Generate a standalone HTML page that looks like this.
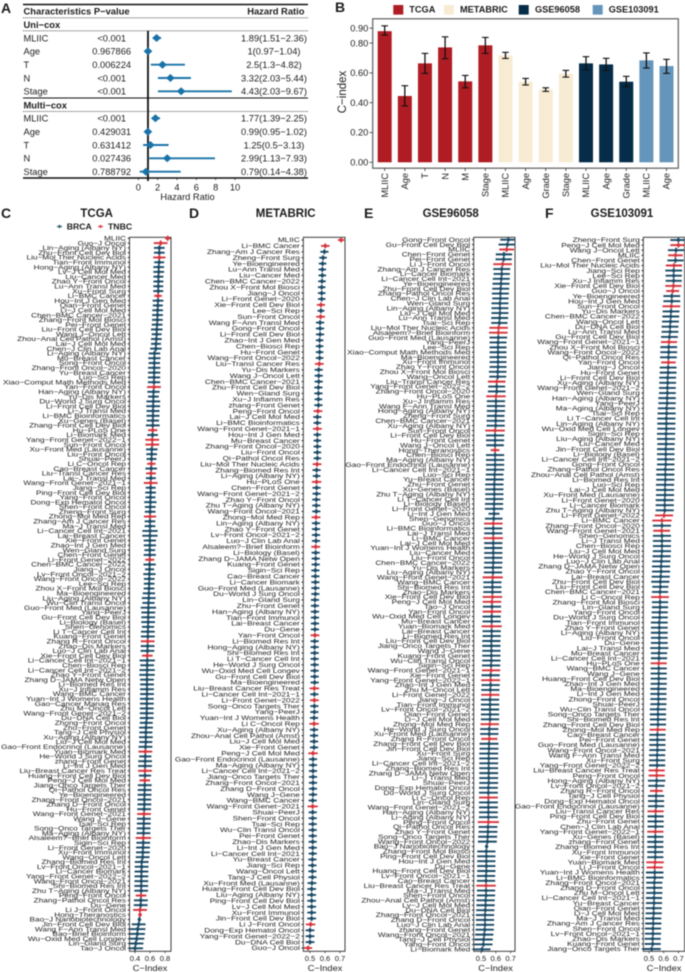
<!DOCTYPE html>
<html lang="en">
<head>
<meta charset="utf-8">
<title>C-index and hazard ratio figure</title>
<style>
html,body{margin:0;padding:0;background:#fff;width:685px;height:972px;overflow:hidden}
svg{position:absolute;left:0;top:0;filter:blur(.42px)}
text{font-family:"Liberation Sans",Arial,sans-serif;fill:#1c1c1c}
.b{font-weight:bold}
</style>
</head>
<body>
<svg id="fig" width="685" height="972" viewBox="0 0 685 972" xmlns="http://www.w3.org/2000/svg">
<text class="b" x="1" y="13" font-size="14">A</text>
<text class="b" x="335" y="12" font-size="14">B</text>
<text class="b" x="1" y="218" font-size="14">C</text>
<text class="b" x="189" y="218" font-size="14">D</text>
<text class="b" x="364" y="218" font-size="14">E</text>
<text class="b" x="545" y="218" font-size="14">F</text>
<g id="panelA">
<line x1="23" x2="308" y1="4.5" y2="4.5" stroke="#111" stroke-width="1.4"/>
<text class="b" x="23.5" y="14.3" font-size="9.4">Characteristics P−value</text>
<text class="b" x="304.5" y="14.3" font-size="9.4" text-anchor="end">Hazard Ratio</text>
<line x1="23" x2="308" y1="17.8" y2="17.8" stroke="#555" stroke-width=".9" stroke-dasharray="1.2 .8"/>
<text class="b" x="23.5" y="28" font-size="9.4">Uni−cox</text>
<line x1="23" x2="308" y1="30.8" y2="30.8" stroke="#555" stroke-width=".9" stroke-dasharray="1.2 .8"/>
<line x1="23" x2="308" y1="98" y2="98" stroke="#111" stroke-width="1"/>
<text class="b" x="23.5" y="108.3" font-size="9.4">Multi−cox</text>
<line x1="23" x2="308" y1="111.4" y2="111.4" stroke="#555" stroke-width=".9" stroke-dasharray="1.2 .8"/>
<line x1="23" x2="308" y1="178" y2="178" stroke="#111" stroke-width="1.4"/>
<text x="187.5" y="200" font-size="9.3" text-anchor="middle">Hazard Ratio</text>
</g>
<g id="panelB">
<rect x="372.7" y="18.8" width="305.6" height="149.4" fill="none" stroke="#6a6a6a" stroke-width="1.3"/>
<text font-size="11.5" text-anchor="middle" transform="translate(346,92) rotate(-90)">C−index</text>
<rect x="393.3" y="5" width="10" height="9.6" fill="#b01c23"/>
<text class="b" x="409.3" y="12.5" font-size="9.2">TCGA</text>
<rect x="444" y="5" width="10" height="9.6" fill="#f8ebd3"/>
<text class="b" x="460" y="12.5" font-size="9.2">METABRIC</text>
<rect x="518.7" y="5" width="10" height="9.6" fill="#052c48"/>
<text class="b" x="535" y="12.5" font-size="9.2">GSE96058</text>
<rect x="592.7" y="5" width="10" height="9.6" fill="#6595ba"/>
<text class="b" x="608.7" y="12.5" font-size="9.2">GSE103091</text>
</g>
<text class="b" x="96.7" y="217" font-size="11.5" text-anchor="middle">TCGA</text>
<line x1="57" x2="62" y1="226.5" y2="226.5" stroke="#1e4f6b" stroke-width="1.2"/>
<line x1="59.5" x2="59.5" y1="224.8" y2="228.2" stroke="#1e4f6b" stroke-width="1.2"/>
<text class="b" x="66.7" y="229.4" font-size="8.7">BRCA</text>
<line x1="98" x2="103" y1="226.5" y2="226.5" stroke="#d6343c" stroke-width="1.2"/>
<line x1="100.5" x2="100.5" y1="224.8" y2="228.2" stroke="#d6343c" stroke-width="1.2"/>
<text class="b" x="108" y="229.4" font-size="8.7">TNBC</text>
<text class="b" x="285.7" y="217" font-size="11.5" text-anchor="middle">METABRIC</text>
<text class="b" x="450.7" y="217" font-size="11.5" text-anchor="middle">GSE96058</text>
<text class="b" x="622" y="217" font-size="11.5" text-anchor="middle">GSE103091</text>
</svg>
<script>
/* ---------- Panel A data ---------- */
const hrNames=["MLIIC","Age","T","N","Stage","MLIIC","Age","T","N","Stage"];
const hrPValues=["<0.001","0.967866","0.006224","<0.001","<0.001","<0.001","0.429031","0.631412","0.027436","0.788792"];
const hrCenters=[1.89,1,2.5,3.32,4.43,1.77,0.99,1.25,2.99,0.79];
const hrLows=[1.51,0.97,1.3,2.03,2.03,1.39,0.95,0.5,1.13,0.14];
const hrHighs=[2.36,1.04,4.82,5.44,9.67,2.25,1.02,3.13,7.93,4.38];
const hrTexts=["1.89(1.51-2.36)","1(0.97-1.04)","2.5(1.3-4.82)","3.32(2.03-5.44)","4.43(2.03-9.67)","1.77(1.39-2.25)","0.99(0.95-1.02)","1.25(0.5-3.13)","2.99(1.13-7.93)","0.79(0.14-4.38)"];
const hrTicks=[0,2,4,6,8,10];

/* ---------- Panel B data ---------- */
const barCategories=["MLIIC","Age","T","N","M","Stage","MLIIC","Age","Grade","Stage","MLIIC","Age","Grade","MLIIC","Age"];
const barCohorts=["TCGA","TCGA","TCGA","TCGA","TCGA","TCGA","METABRIC","METABRIC","METABRIC","METABRIC","GSE96058","GSE96058","GSE96058","GSE103091","GSE103091"];
const barValues=[0.88,0.445,0.664,0.771,0.543,0.785,0.718,0.541,0.49,0.595,0.664,0.657,0.541,0.684,0.646];
const barLows=[0.854,0.378,0.597,0.695,0.5,0.731,0.697,0.519,0.476,0.572,0.62,0.617,0.508,0.633,0.597];
const barHighs=[0.916,0.514,0.731,0.842,0.583,0.838,0.738,0.563,0.5,0.617,0.709,0.698,0.577,0.734,0.691];
const barTicks=[0,0.2,0.4,0.6,0.8,0.9];

/* ---------- Panel C data (TCGA) ---------- */
const tcgaLabels=[
"MLIIC","Guo-J Oncol","Lin-Aging (Albany NY)","Zhu-Front Cell Dev Biol","Liu-Mol Ther Nucleic Acids","Tian-Front Immunol","Hong-Aging (Albany NY)","Lv-J Cell Mol Med","Liu-Cancer Med","Zhao Y-Front Oncol",
"Lu-Ann Transl Med","Xu-Front Surg","Li-BMC Cancer","Hou-Int J Gen Med","Qian-Front Genet","Li-J Cell Mol Med","Chen-BMC Cancer-2021","Zhang-Front Mol Biosci","Pei-Front Genet","Liu-Front Cell Dev Biol",
"Wang J-Oncol Lett","Zhou-Anal Cell Pathol (Amst)","Lai-J Cell Mol Med","Chen-J Clin Lab Anal","Li-Aging (Albany NY)","Mu-Breast Cancer","Song-Front Oncol","Zhang-Front Oncol-2020","Yu-Breast Cancer","Luo-Sci Rep",
"Xiao-Comput Math Methods Med","Yan-Front Oncol","Han-Aging (Albany NY)","Yu-Dis Markers","Du-World J Surg Oncol","Li-Front Cell Dev Biol","Li-J Transl Med","Li-BMC Bioinformatics","Xu-Genes (Basel)","Zhang-Front Cell Dev Biol",
"Hu-PLoS One","Li-Biomark Med","Yang-Front Genet-2022-1","Sun-Front Oncol","Xu-Front Med (Lausanne)","Liu-Front Oncol","Shuai-PeerJ","Li C-Oncol Rep","Cao-Breast Cancer","Liu-Transl Cancer Res",
"Lai-J Transl Med","Wang-Front Genet-2021-1","Jiang-Sci Rep","Ping-Front Cell Dev Biol","Yang-Front Oncol","Dong-Exp Hematol Oncol","Shen-Front Oncol","Zheng-Front Surg","Zhong-Mol Med Rep","Zhang-Am J Cancer Res",
"Ma-J Transl Med","Li-Cancer Cell Int-2021","Lai-Breast Cancer","Xie-Front Genet","Zhao-Int J Gen Med","Wen-Gland Surg","Chen-Front Genet","Li-Front Genet-2022","Chen-BMC Cancer-2022","Jiang-J Oncol",
"Lv-Front Oncol-2021-2","Wang-Front Oncol-2022","Lee-Sci Rep","Zhou X-Front Mol Biosci","Ma-Bioengineered","Liu-Aging (Albany NY)","Wu-Clin Transl Oncol","Guo-Front Med (Lausanne)","Yang-PeerJ","Gu-Front Cell Dev Biol",
"Li-Biology (Basel)","Shen-Genomics","Li T-Cancer Cell Int","Kuang-Front Genet","Zhang R-Front Oncol","Zhao-Dis Markers","Luo-J Clin Lab Anal","Xie-Front Cell Dev Biol","Li-Cancer Cell Int-2021-1","Chen-Biosci Rep",
"Li-Cancer Cell Int-2021-2","Zhao Y-Front Genet","Zhang D-JAMA Netw Open","Li-Biomed Res Int","Xu-J Inflamm Res","Wang-BMC Cancer","Yuan-Int J Womens Health","Gao-Cancer Manag Res","Zhu M-Oncol Lett","Wang-Front Genet-2021-2",
"Du-DNA Cell Biol","Zhong-Front Oncol","Zhu-Front Genet","Tang-J Cell Physiol","Xu-Aging (Albany NY)","Liu-J Cell Mol Med","Gao-Front Endocrinol (Lausanne)","Yuan-Biomark Med","He-World J Surg Oncol","zhang-Front Genet",
"Li-Int J Gen Med","Liu-Breast Cancer Res Treat","Huang-Front Cell Dev Biol","Peng-J Cell Mol Med","Jiang-Onco Targets Ther","Qi-Pathol Oncol Res","Ye-Bioengineered","Zhang-Front Oncol-2021","Zhang D-Front Oncol","Hu-Front Genet",
"Wang-Front Genet-2021","Wang J-Gene","Tsai-Sci Rep","Song-Onco Targets Ther","Ma-Aging (Albany NY)","Alsaleem?-Brief Bioinform","Sigin-Sci Rep","Li-Front Genet-2020","Xu-Front Immunol","Wang-Oncol Lett",
"Zhang-Biomed Res Int","Lv-Front Oncol-2021-1","Li-Cancer Biomark","Yang-Front Genet-2022-2","Wang-Front Oncol-2021","Shi-Biomed Res Int","Zhu T-Aging (Albany NY)","Peng-Front Oncol","Zhang-Pathol Oncol Res","Du-Gene",
"Li J-Front Oncol","Hong-Theranostics","Bao-J Nanobiotechnology","Jin-Front Cell Dev Biol","Wang F-Ann Transl Med","Bao-Brief Bioinform","Wu-Oxid Med Cell Longev","Lin-Gland Surg","Tao-J Oncol"];
const tcgaCenters=[
.836,.742,.724,.724,.724,.722,.716,.716,.712,.712,
.71,.71,.707,.707,.704,.702,.7,.698,.695,.69,
.689,.685,.68,.678,.66,.658,.657,.656,.655,.654,
.653,.653,.647,.645,.644,.642,.64,.64,.638,.637,
.636,.634,.63,.63,.624,.622,.62,.618,.616,.614,
.612,.609,.609,.608,.606,.605,.603,.602,.6,.6,
.6,.6,.599,.598,.598,.597,.597,.596,.595,.594,
.592,.59,.589,.587,.585,.583,.58,.578,.577,.576,
.575,.574,.572,.571,.569,.568,.566,.564,.563,.562,
.562,.56,.56,.56,.56,.56,.558,.558,.557,.556,
.556,.55,.547,.545,.545,.544,.54,.538,.537,.535,
.534,.533,.533,.53,.53,.528,.527,.525,.525,.522,
.52,.518,.517,.515,.513,.511,.51,.507,.505,.502,
.489,.488,.486,.485,.484,.483,.482,.48,.478,.476,
.467,.467,.458,.449,.436,.43,.422,.41,.4];
const tcgaHalfWidths=[
.035,.09,.07,.07,.08,.065,.07,.07,.065,.065,
.065,.065,.05,.07,.065,.07,.07,.07,.07,.075,
.065,.07,.065,.075,.075,.08,.075,.08,.08,.08,
.08,.09,.08,.07,.09,.09,.085,.085,.08,.09,
.06,.07,.09,.09,.075,.07,.065,.055,.075,.065,
.065,.09,.065,.07,.065,.08,.07,.07,.08,.07,
.07,.1,.1,.08,.08,.07,.08,.06,.08,.06,
.08,.07,.07,.07,.08,.09,.08,.1,.09,.09,
.09,.08,.09,.09,.09,.09,.09,.07,.1,.09,
.1,.1,.09,.09,.09,.09,.09,.09,.09,.09,
.09,.085,.09,.085,.09,.085,.09,.09,.08,.09,
.09,.09,.08,.07,.09,.09,.09,.09,.09,.09,
.09,.09,.09,.09,.09,.1,.09,.09,.09,.09,
.09,.09,.09,.09,.09,.09,.09,.07,.09,.09,
.09,.02,.012,.09,.1,.1,.1,.1,.105];
const tcgaTnbc=["MLIIC","Guo-J Oncol","Liu-Mol Ther Nucleic Acids","Li-BMC Cancer","Yan-Front Oncol","Hu-PLoS One","Yang-Front Genet-2022-1","Sun-Front Oncol","Li C-Oncol Rep","Liu-Transl Cancer Res","Wang-Front Genet-2021-1","Zhong-Mol Med Rep","Li-Front Genet-2022","Zhang R-Front Oncol","Xie-Front Cell Dev Biol","Yuan-Biomark Med","Liu-Breast Cancer Res Treat","Peng-J Cell Mol Med","Wang-Front Genet-2021","Alsaleem?-Brief Bioinform","Peng-Front Oncol","Li J-Front Oncol","Hong-Theranostics"];
const tcgaTicks=[0.4,0.6,0.8];

/* ---------- Panel D data (METABRIC) ---------- */
const metabricLabels=[
"MLIIC","Li-BMC Cancer","Zhang-Am J Cancer Res","Zheng-Front Surg","Ye-Bioengineered","Lu-Ann Transl Med","Liu-Cancer Med","Chen-BMC Cancer-2022","Zhou X-Front Mol Biosci","Jiang-J Oncol",
"Li-Front Genet-2020","Xie-Front Cell Dev Biol","Lee-Sci Rep","Sun-Front Oncol","Wang F-Ann Transl Med","Gong-Front Oncol","Li-Front Cell Dev Biol","Zhao-Int J Gen Med","Chen-Biosci Rep","Hu-Front Genet",
"Wang-Front Oncol-2022","Liu-Transl Cancer Res","Yu-Dis Markers","Wang J-Oncol Lett","Chen-BMC Cancer-2021","Zhu-Front Cell Dev Biol","Wen-Gland Surg","Xu-J Inflamm Res","zhang-Front Genet","Peng-Front Oncol",
"Lai-J Cell Mol Med","Li-BMC Bioinformatics","Wang-Front Genet-2021-1","Hou-Int J Gen Med","Mu-Breast Cancer","Zhang-Front Oncol-2020","Liu-Front Oncol","Qi-Pathol Oncol Res","Liu-Mol Ther Nucleic Acids","Zhang-Biomed Res Int",
"Li-Aging (Albany NY)","Hu-PLoS One","Chen-Front Genet","Wang-Front Genet-2021-2","Zhao Y-Front Oncol","Zhu T-Aging (Albany NY)","Wang-Front Oncol-2021","Zhong-Mol Med Rep","Lin-Aging (Albany NY)","Zhao Y-Front Genet",
"Lv-Front Oncol-2021-2","Luo-J Clin Lab Anal","Alsaleem?-Brief Bioinform","Li-Biology (Basel)","Zhang D-JAMA Netw Open","Kuang-Front Genet","Sigin-Sci Rep","Cao-Breast Cancer","Li-Cancer Biomark","Guo-Front Med (Lausanne)",
"Du-World J Surg Oncol","Lin-Gland Surg","Zhu-Front Genet","Han-Aging (Albany NY)","Tian-Front Immunol","Lai-Breast Cancer","Du-Gene","Yan-Front Oncol","Li-Biomed Res Int","Hong-Aging (Albany NY)",
"Shi-Biomed Res Int","Li T-Cancer Cell Int","He-World J Surg Oncol","Wu-Oxid Med Cell Longev","Gu-Front Cell Dev Biol","Ma-Bioengineered","Liu-Breast Cancer Res Treat","Li-Cancer Cell Int-2021-1","Li-Front Genet-2022","Song-Onco Targets Ther",
"Yang-PeerJ","Yuan-Int J Womens Health","Li C-Oncol Rep","Xu-Aging (Albany NY)","Zhou-Anal Cell Pathol (Amst)","Liu-J Cell Mol Med","Xie-Front Genet","Peng-J Cell Mol Med","Gao-Front Endocrinol (Lausanne)","Ma-Aging (Albany NY)",
"Li-Cancer Cell Int-2021-2","Jiang-Onco Targets Ther","Zhang-Front Oncol-2021","Zhang D-Front Oncol","Wang J-Gene","Wang-BMC Cancer","Wang-Front Genet-2021","Shuai-PeerJ","Shen-Front Oncol","Tsai-Sci Rep",
"Wu-Clin Transl Oncol","Pei-Front Genet","Zhao-Dis Markers","Li-Int J Gen Med","Li-Cancer Cell Int-2021","Yu-Breast Cancer","Jiang-Sci Rep","Wang-Oncol Lett","Tang-J Cell Physiol","Xu-Front Med (Lausanne)",
"Huang-Front Cell Dev Biol","Liu-Aging (Albany NY)","Ping-Front Cell Dev Biol","Lv-J Cell Mol Med","Xu-Front Immunol","Jin-Front Cell Dev Biol","Li J-Front Oncol","Dong-Exp Hematol Oncol","Yang-Front Genet-2022-2","Du-DNA Cell Biol",
"Guo-J Oncol"];
const metabricCenters=[
.707,.602,.596,.587,.584,.582,.582,.58,.578,.578,
.578,.573,.573,.571,.567,.567,.567,.564,.564,.564,
.564,.562,.558,.558,.558,.556,.556,.556,.556,.553,
.549,.549,.549,.549,.549,.549,.549,.549,.547,.544,
.544,.544,.544,.544,.542,.542,.542,.54,.54,.54,
.54,.54,.538,.538,.538,.538,.536,.536,.536,.536,
.536,.533,.533,.533,.533,.533,.533,.533,.531,.531,
.531,.531,.531,.531,.531,.531,.529,.529,.529,.529,
.529,.527,.527,.527,.527,.527,.527,.52,.52,.52,
.52,.52,.52,.52,.52,.518,.518,.518,.518,.518,
.518,.518,.518,.518,.518,.516,.516,.516,.516,.513,
.511,.511,.511,.511,.511,.511,.504,.5,.5,.5,
.487];
const metabricHalfWidths=[
.02,.027,.026,.024,.024,.024,.024,.024,.024,.024,
.024,.026,.022,.028,.026,.026,.026,.024,.024,.024,
.024,.028,.026,.026,.026,.026,.026,.024,.026,.028,
.026,.024,.028,.024,.024,.024,.024,.024,.028,.026,
.024,.03,.026,.026,.026,.026,.026,.028,.026,.026,
.026,.026,.028,.026,.026,.026,.026,.026,.026,.026,
.026,.026,.026,.026,.026,.026,.026,.028,.026,.026,
.026,.026,.026,.026,.026,.026,.03,.026,.028,.026,
.026,.026,.03,.026,.026,.026,.026,.03,.026,.026,
.026,.026,.026,.026,.026,.026,.032,.026,.026,.026,
.026,.026,.026,.026,.026,.026,.026,.026,.026,.028,
.028,.028,.028,.028,.028,.028,.03,.028,.028,.028,
.026];
const metabricTnbc=["MLIIC","Li-BMC Cancer","Xie-Front Cell Dev Biol","Sun-Front Oncol","Liu-Transl Cancer Res","Peng-Front Oncol","Wang-Front Genet-2021-1","Liu-Mol Ther Nucleic Acids","Hu-PLoS One","Zhong-Mol Med Rep","Alsaleem?-Brief Bioinform","Yan-Front Oncol","Liu-Breast Cancer Res Treat","Li-Front Genet-2022","Li C-Oncol Rep","Peng-J Cell Mol Med","Wang-Front Genet-2021","Li J-Front Oncol","Guo-J Oncol"];
const metabricTicks=[0.5,0.6,0.7];

/* ---------- Panel E data (GSE96058) ---------- */
const gse96058Labels=[
"Gong-Front Oncol","Gu-Front Cell Dev Biol","MLIIC","Chen-Front Genet","Pei-Front Genet","Li J-Front Oncol","Zhang-Am J Cancer Res","Li-Cancer Biomark","Li-Cancer Cell Int-2021","Ye-Bioengineered",
"Zhu-Front Cell Dev Biol","Zhang-Pathol Oncol Res","Chen-J Clin Lab Anal","Wen-Gland Surg","Lin-Aging (Albany NY)","Liu-J Cell Mol Med","Lu-Ann Transl Med","Tsai-Sci Rep","Liu-Mol Ther Nucleic Acids","Alsaleem?-Brief Bioinform",
"Guo-Front Med (Lausanne)","Yang-PeerJ","Lee-Sci Rep","Xiao-Comput Math Methods Med","Ma-Bioengineered","Xu-Front Immunol","Zhao Y-Front Oncol","Zhou X-Front Mol Biosci","Wang-Oncol Lett","Liu-Transl Cancer Res",
"Yang-Front Genet-2022-2","Zhang-Front Oncol-2020","Hu-PLoS One","Xu-J Inflamm Res","Wang F-Ann Transl Med","Hong-Aging (Albany NY)","Zheng-Front Surg","Chen-BMC Cancer-2021","Xu-Aging (Albany NY)","Sun-Front Oncol",
"Li-Front Cell Dev Biol","Hu-Front Genet","Wang J-Oncol Lett","Hong-Theranostics","Chen-Biosci Rep","Ma-Aging (Albany NY)","Gao-Front Endocrinol (Lausanne)","Li-Cancer Cell Int-2021-1","Luo-Sci Rep","Yu-Breast Cancer",
"Zhu-Front Genet","Xu-Genes (Basel)","Zhu T-Aging (Albany NY)","Li T-Cancer Cell Int","Li-Biology (Basel)","Li-Front Genet-2020","Li-Int J Gen Med","Shen-Genomics","Guo-J Oncol","Li-BMC Bioinformatics",
"Lai-J Transl Med","Li-BMC Cancer","Lai-J Cell Mol Med","Yuan-Int J Womens Health","Liu-Cancer Med","Liu-Front Oncol","Chen-BMC Cancer-2022","Yu-Dis Markers","Liu-Aging (Albany NY)","Wang-Front Genet-2021",
"Wang-BMC Cancer","Shi-Biomed Res Int","Zhao-Dis Markers","Xie-Front Cell Dev Biol","Peng-J Cell Mol Med","Tao-J Oncol","Yan-Front Oncol","Wu-Oxid Med Cell Longev","Mu-Breast Cancer","Yuan-Biomark Med",
"Lai-Breast Cancer","Li-Biomed Res Int","Liu-Front Cell Dev Biol","Jiang-Onco Targets Ther","Wang J-Gene","Kuang-Front Genet","Wu-Clin Transl Oncol","Sigin-Sci Rep","Wang-Front Genet-2021-1","Xie-Front Genet",
"Yang-Front Genet-2022-1","Zhao-Int J Gen Med","Zhu M-Oncol Lett","Li-Front Genet-2022","Jiang-J Oncol","Tian-Front Immunol","Lv-Front Oncol-2021-2","Qian-Front Genet","Li-J Cell Mol Med","Zhong-Mol Med Rep",
"He-World J Surg Oncol","Xu-Front Med (Lausanne)","Zhang R-Front Oncol","Zhang-Front Cell Dev Biol","Jin-Front Cell Dev Biol","Xu-Front Surg","Jiang-Sci Rep","Li-Cancer Cell Int-2021-2","Zhang-Biomed Res Int","Zhang D-JAMA Netw Open",
"Li-J Transl Med","Shuai-PeerJ","Dong-Exp Hematol Oncol","Du-World J Surg Oncol","Li C-Oncol Rep","Lin-Gland Surg","Wang-Front Genet-2021-2","Han-Aging (Albany NY)","Li-Aging (Albany NY)","Peng-Front Oncol",
"Qi-Pathol Oncol Res","Zhao Y-Front Genet","Song-Onco Targets Ther","Wang-Front Oncol-2022","Bao-J Nanobiotechnology","Zhang-Front Mol Biosci","Ping-Front Cell Dev Biol","Hou-Int J Gen Med","Du-Gene","Huang-Front Cell Dev Biol",
"Lv-Front Oncol-2021-1","Cao-Breast Cancer","Liu-Breast Cancer Res Treat","Ma-J Transl Med","Shen-Front Oncol","Zhou-Anal Cell Pathol (Amst)","Lv-J Cell Mol Med","Du-DNA Cell Biol","Zhang-Front Oncol-2021","Zhang D-Front Oncol",
"Luo-J Clin Lab Anal","zhang-Front Genet","Wang-Front Oncol-2021","Tang-J Cell Physiol","Yang-Front Oncol","Li-Biomark Med"];
const gse96058Centers=[
.685,.678,.673,.655,.653,.646,.64,.64,.637,.635,
.633,.631,.631,.628,.628,.628,.626,.624,.619,.617,
.617,.615,.615,.615,.615,.615,.615,.613,.613,.606,
.606,.606,.601,.601,.601,.601,.599,.599,.599,.595,
.595,.595,.595,.595,.595,.595,.595,.595,.592,.592,
.59,.59,.59,.59,.588,.588,.588,.586,.583,.583,
.583,.583,.583,.583,.583,.583,.583,.581,.581,.579,
.577,.577,.577,.577,.574,.574,.574,.572,.572,.572,
.572,.572,.57,.57,.57,.57,.57,.568,.568,.565,
.565,.565,.563,.563,.561,.561,.561,.561,.561,.559,
.556,.556,.556,.554,.554,.552,.552,.552,.552,.552,
.552,.552,.55,.55,.55,.55,.55,.55,.55,.55,
.547,.547,.545,.543,.538,.536,.536,.536,.536,.536,
.534,.534,.534,.534,.534,.531,.531,.529,.527,.527,
.527,.525,.522,.518,.516,.507];
const gse96058HalfWidths=[
.05,.054,.045,.05,.05,.057,.052,.05,.052,.052,
.052,.052,.05,.052,.052,.052,.052,.05,.057,.057,
.054,.052,.052,.052,.052,.052,.052,.054,.052,.054,
.052,.054,.06,.056,.056,.056,.054,.056,.056,.06,
.056,.056,.054,.027,.056,.056,.056,.056,.054,.056,
.056,.056,.056,.056,.056,.056,.034,.054,.057,.056,
.056,.06,.056,.056,.056,.056,.056,.056,.056,.062,
.056,.056,.056,.06,.057,.056,.057,.056,.056,.062,
.056,.056,.056,.056,.056,.056,.056,.056,.056,.056,
.058,.056,.056,.056,.056,.056,.056,.056,.056,.057,
.056,.056,.05,.058,.058,.058,.058,.058,.058,.058,
.058,.058,.058,.058,.058,.058,.058,.058,.058,.065,
.058,.058,.058,.058,.008,.056,.056,.056,.056,.056,
.056,.056,.06,.056,.056,.056,.056,.056,.056,.056,
.056,.056,.056,.056,.056,.052];
const gse96058Tnbc=["MLIIC","Li J-Front Oncol","Liu-Mol Ther Nucleic Acids","Alsaleem?-Brief Bioinform","Liu-Transl Cancer Res","Hu-PLoS One","Sun-Front Oncol","Hong-Theranostics","Guo-J Oncol","Li-BMC Cancer","Wang-Front Genet-2021","Xie-Front Cell Dev Biol","Peng-J Cell Mol Med","Yan-Front Oncol","Yuan-Biomark Med","Wang-Front Genet-2021-1","Yang-Front Genet-2022-1","Li-Front Genet-2022","Zhong-Mol Med Rep","Zhang R-Front Oncol","Li C-Oncol Rep","Peng-Front Oncol","Liu-Breast Cancer Res Treat"];
const gse96058Ticks=[0.5,0.6,0.7];

/* ---------- Panel F data (GSE103091) ---------- */
const gse103091Labels=[
"Zheng-Front Surg","Peng-J Cell Mol Med","Wang J-Oncol Lett","MLIIC","Chen-Front Genet","Liu-Mol Ther Nucleic Acids","Jiang-Sci Rep","Lee-Sci Rep","Xu-J Inflamm Res","Xie-Front Cell Dev Biol",
"Guo-J Oncol","Ye-Bioengineered","Hou-Int J Gen Med","Sun-Front Oncol","Yu-Dis Markers","Chen-BMC Cancer-2022","Wang-Oncol Lett","Du-DNA Cell Biol","Lu-Ann Transl Med","Gu-Front Cell Dev Biol",
"Wang-Front Genet-2021-1","Zhou X-Front Mol Biosci","Wang-Front Oncol-2022","Qi-Pathol Oncol Res","Yan-Front Oncol","Jiang-J Oncol","Hu-Front Genet","Li-Front Cell Dev Biol","Xu-Aging (Albany NY)","Wang-Front Genet-2021-2",
"Wen-Gland Surg","Han-Aging (Albany NY)","Yang-PeerJ","Ma-Aging (Albany NY)","Tsai-Sci Rep","Li T-Cancer Cell Int","Lin-Aging (Albany NY)","Wu-Oxid Med Cell Longev","Sigin-Sci Rep","Liu-Aging (Albany NY)",
"Liu-Cancer Med","Jin-Front Cell Dev Biol","Li-Biology (Basel)","Li-Cancer Cell Int-2021-2","Gong-Front Oncol","Zhang-Pathol Oncol Res","Zhou-Anal Cell Pathol (Amst)","Li-Biomed Res Int","Luo-Sci Rep","Lai-J Cell Mol Med",
"Xu-Front Med (Lausanne)","Li-Front Genet-2020","Li-Cancer Biomark","Zhu T-Aging (Albany NY)","Li-Front Genet-2022","Li-BMC Cancer","Zhang-Front Oncol-2020","Wang-Front Genet-2021","Shen-Genomics","Li-J Transl Med",
"Chen-Biosci Rep","Liu-J Cell Mol Med","He-World J Surg Oncol","Luo-J Clin Lab Anal","Zhang D-JAMA Netw Open","Zhao Y-Front Oncol","Lai-Breast Cancer","Zhu-Front Cell Dev Biol","Liu-Front Cell Dev Biol","Chen-BMC Cancer-2021",
"Li C-Oncol Rep","Zhang-Front Mol Biosci","Lin-Gland Surg","Yang-Front Oncol","Du-World J Surg Oncol","Tian-Front Immunol","Zhao Y-Front Genet","Li-Aging (Albany NY)","Liu-Front Oncol","Du-Gene",
"Lai-J Transl Med","Mu-Breast Cancer","Li-Cancer Cell Int-2021","Hu-PLoS One","Wang-BMC Cancer","Wang J-Gene","Huang-Front Cell Dev Biol","Zhao-Int J Gen Med","Ma-Bioengineered","Li-Int J Gen Med",
"Zhong-Front Oncol","Shuai-PeerJ","Wu-Clin Transl Oncol","Song-Onco Targets Ther","Shi-Biomed Res Int","Zhang-Front Cell Dev Biol","Zhong-Mol Med Rep","Cao-Breast Cancer","Pei-Front Genet","Guo-Front Med (Lausanne)",
"Wang-Front Oncol-2021","Wang F-Ann Transl Med","Xu-Front Surg","Yang-Front Genet-2022-2","Liu-Breast Cancer Res Treat","Peng-Front Oncol","Hong-Aging (Albany NY)","Lv-Front Oncol-2021-2","Zhang R-Front Oncol","Tang-J Cell Physiol",
"Dong-Exp Hematol Oncol","Gao-Front Endocrinol (Lausanne)","Liu-Transl Cancer Res","Ping-Front Cell Dev Biol","Zhu-Front Genet","Chen-J Clin Lab Anal","Yang-Front Genet-2022-1","Xu-Genes (Basel)","zhang-Front Genet","Zhang-Biomed Res Int",
"Xu-Front Immunol","Xie-Front Genet","Yuan-Biomark Med","Li J-Front Oncol","Yuan-Int J Womens Health","Li-BMC Bioinformatics","Zhang-Front Oncol-2021","Zhang D-Front Oncol","Zhu M-Oncol Lett","Li-Cancer Cell Int-2021-1",
"Yu-Breast Cancer","Qian-Front Genet","Li-J Cell Mol Med","Ma-J Transl Med","Zhang-Am J Cancer Res","Shen-Front Oncol","Lv-Front Oncol-2021-1","Zhao-Dis Markers","Kuang-Front Genet","Jiang-Onco Targets Ther"];
const gse103091Centers=[
.7,.7,.684,.68,.68,.67,.668,.668,.668,.666,
.661,.655,.655,.652,.65,.648,.646,.643,.643,.639,
.636,.634,.634,.632,.632,.63,.63,.627,.627,.625,
.625,.623,.623,.62,.62,.618,.618,.618,.616,.616,
.616,.614,.614,.614,.614,.611,.611,.611,.609,.609,
.609,.607,.607,.607,.602,.588,.588,.586,.588,.588,
.588,.588,.586,.584,.582,.582,.58,.577,.577,.575,
.575,.575,.575,.573,.573,.57,.57,.57,.57,.57,
.57,.568,.568,.566,.566,.566,.566,.566,.564,.564,
.564,.564,.561,.561,.561,.561,.559,.557,.557,.557,
.557,.555,.555,.555,.552,.552,.552,.55,.55,.548,
.548,.548,.545,.545,.545,.545,.543,.543,.543,.543,
.543,.543,.541,.539,.539,.539,.536,.536,.536,.534,
.534,.532,.532,.529,.529,.527,.527,.525,.525,.518];
const gse103091HalfWidths=[
.05,.05,.05,.045,.05,.05,.052,.05,.05,.05,
.04,.052,.052,.055,.052,.052,.052,.052,.052,.052,
.05,.052,.052,.052,.045,.052,.052,.052,.052,.052,
.052,.054,.054,.054,.056,.056,.056,.056,.056,.056,
.054,.054,.054,.054,.054,.056,.056,.056,.056,.056,
.056,.056,.056,.056,.056,.06,.056,.052,.056,.056,
.056,.056,.056,.056,.056,.056,.056,.056,.05,.05,
.055,.05,.05,.05,.05,.052,.052,.052,.052,.052,
.056,.05,.05,.05,.05,.05,.05,.05,.05,.05,
.05,.05,.05,.05,.05,.05,.05,.05,.05,.05,
.05,.05,.05,.05,.05,.05,.054,.05,.04,.05,
.05,.05,.05,.05,.05,.05,.05,.05,.05,.05,
.05,.05,.054,.05,.054,.054,.05,.05,.05,.05,
.05,.05,.05,.05,.05,.05,.05,.05,.05,.056];
const gse103091Tnbc=["Peng-J Cell Mol Med","MLIIC","Liu-Mol Ther Nucleic Acids","Xie-Front Cell Dev Biol","Guo-J Oncol","Sun-Front Oncol","Wang-Front Genet-2021-1","Yan-Front Oncol","Li-BMC Cancer","Li-Front Genet-2022","Wang-Front Genet-2021","Li C-Oncol Rep","Hu-PLoS One","Zhong-Mol Med Rep","Liu-Breast Cancer Res Treat","Peng-Front Oncol","Zhang R-Front Oncol","Liu-Transl Cancer Res","Yang-Front Genet-2022-1","Yuan-Biomark Med","Li J-Front Oncol"];
const gse103091Ticks=[0.5,0.6,0.7];

/* ---------- Helpers ---------- */
const NS="http://www.w3.org/2000/svg";
const fig=document.getElementById("fig");
function svgEl(parent,tag,attrs,txt){
  const el=document.createElementNS(NS,tag);
  for(const k in attrs){el.setAttribute(k,attrs[k]);}
  if(txt!==undefined){el.textContent=txt;}
  parent.appendChild(el);
  return el;
}
function dash(s){return s.replace(/-/g,"\u2212");}

/* ---------- Panel A ---------- */
(function(){
  const g=document.getElementById("panelA");
  const x=v=>138.3+v*9.67;
  const rowY=[38,51.3,64.7,78,91.3,118.3,131.7,145,158.3,171.7];
  hrNames.forEach((n,i)=>{
    const t1=svgEl(g,"text",{x:23.5,y:rowY[i]+3.3,"font-size":9.3},n);
    
    
    const t2=svgEl(g,"text",{x:111.7,y:rowY[i]+3.3,"font-size":9.3,"text-anchor":"middle"},hrPValues[i]);
    
    
    const t3=svgEl(g,"text",{x:274,y:rowY[i]+3.3,"font-size":9.3,"text-anchor":"middle"},dash(hrTexts[i]));
    
    
    const l=svgEl(g,"line",{x1:x(hrLows[i]),x2:x(hrHighs[i]),y1:rowY[i],y2:rowY[i],stroke:"#1a73a8","stroke-width":1.9});
    
    
  });
  const ref=svgEl(g,"line",{x1:x(1),x2:x(1),y1:30.8,y2:181,stroke:"#111","stroke-width":1.8});
  
  
  hrNames.forEach((n,i)=>{
    const c=x(hrCenters[i]),y=rowY[i];
    const d=svgEl(g,"polygon",{points:`${c-4.4},${y} ${c},${y-4} ${c+4.4},${y} ${c},${y+4}`,fill:"#1a73a8"});
    
    
  });
  hrTicks.forEach(v=>{
    const t=svgEl(g,"line",{x1:x(v),x2:x(v),y1:178,y2:180,stroke:"#111","stroke-width":.7});
    
    
    const l=svgEl(g,"text",{x:x(v),y:190.5,"font-size":9.3,"text-anchor":"middle"},String(v));
    
    
  });
})();

/* ---------- Panel B ---------- */
(function(){
  const g=document.getElementById("panelB");
  const y=v=>162.3-v*149;
  const x=i=>384.7+i*20.13;
  const colors={TCGA:"#b01c23",METABRIC:"#f8ebd3",GSE96058:"#052c48",GSE103091:"#6595ba"};
  barTicks.forEach(v=>{
    const t=svgEl(g,"line",{x1:369.5,x2:372.7,y1:y(v),y2:y(v),stroke:"#333","stroke-width":.8});
    
    
    const l=svgEl(g,"text",{x:368.3,y:y(v)+3.2,"font-size":9.3,"text-anchor":"end",fill:"#333"},v.toFixed(2));
    
    
  });
  barValues.forEach((v,i)=>{
    const r=svgEl(g,"rect",{x:x(i)-7,y:y(v),width:14,height:y(0)-y(v),fill:colors[barCohorts[i]]});
    
    
    const e=svgEl(g,"line",{x1:x(i),x2:x(i),y1:y(barLows[i]),y2:y(barHighs[i]),stroke:"#111","stroke-width":1.3});
    
    
    [barLows[i],barHighs[i]].forEach(b=>{
      const c=svgEl(g,"line",{x1:x(i)-3.3,x2:x(i)+3.3,y1:y(b),y2:y(b),stroke:"#111","stroke-width":1.1});
      
      
    });
    const t=svgEl(g,"line",{x1:x(i),x2:x(i),y1:168.2,y2:171,stroke:"#333","stroke-width":.8});
    
    
    const l=svgEl(g,"text",{"font-size":9.2,"text-anchor":"end",transform:`translate(${x(i)+3.2},173) rotate(-90)`,fill:"#333"},barCategories[i]);
    
    
  });
})();

/* ---------- Panels C-F ---------- */
function drawRanking(o){
  const g=svgEl(fig,"g",{});
  
  
  const x=v=>o.x0+(v-o.v0)*o.k;
  const n=o.labels.length;
  const y=i=>o.firstY+i*(o.lastY-o.firstY)/(n-1);
  const clampX=p=>Math.max(o.left,Math.min(o.right,p));
  const box=svgEl(g,"rect",{x:o.left,y:237.3,width:o.right-o.left,height:714,fill:"none",stroke:"#2a2a2a","stroke-width":.9});
  
  
  o.labels.forEach((lab,i)=>{
    const yy=y(i);
    const col=o.tnbc.includes(lab)?"#d6343c":"#1b4a66";
    const t=svgEl(g,"line",{x1:o.left-1.8,x2:o.left,y1:yy,y2:yy,stroke:"#222","stroke-width":.9});
    
    
    const l=svgEl(g,"text",{"font-size":6.4,"text-anchor":"end",transform:`translate(${o.left-3.5},${yy+2.2}) scale(1.29,1)`,fill:"#222"},dash(lab));
    
    
    const c=o.centers[i],h=o.halves[i]*o.hs;
    const b=svgEl(g,"line",{x1:clampX(x(c-h)),x2:clampX(x(c+h)),y1:yy,y2:yy,stroke:col,"stroke-width":o.sw});
    
    
    const cx=x(c);
    const m=svgEl(g,"polygon",{points:`${cx-o.mw},${yy} ${cx},${yy-o.mh} ${cx+o.mw},${yy} ${cx},${yy+o.mh}`,fill:col});
    
    
  });
  o.ticks.forEach(v=>{
    const t=svgEl(g,"line",{x1:x(v),x2:x(v),y1:951.3,y2:953.3,stroke:"#222","stroke-width":.7});
    
    
    const l=svgEl(g,"text",{x:x(v),y:961,"font-size":7.6,"text-anchor":"middle",fill:"#222"},v.toFixed(1));
    
    
  });
  const title=svgEl(g,"text",{"font-size":8.4,"text-anchor":"middle",transform:`translate(${o.titleX},971) scale(1.1,1)`,fill:"#222"},"C\u2212Index");
  
  
}
drawRanking({name:"tcga-ranking-plot",labels:tcgaLabels,centers:tcgaCenters,halves:tcgaHalfWidths,tnbc:tcgaTnbc,ticks:tcgaTicks,left:129.5,right:171,x0:135,v0:.4,k:75,hs:1.02,firstY:238.3,lastY:948.3,titleX:150,sw:1.9,mw:2,mh:3.2});
drawRanking({name:"metabric-ranking-plot",labels:metabricLabels,centers:metabricCenters,halves:metabricHalfWidths,tnbc:metabricTnbc,ticks:metabricTicks,left:303.3,right:345,x0:310,v0:.5,k:150,hs:1.05,firstY:240,lastY:948,titleX:325,sw:1.8,mw:2.1,mh:3});
drawRanking({name:"gse96058-ranking-plot",labels:gse96058Labels,centers:gse96058Centers,halves:gse96058HalfWidths,tnbc:gse96058Tnbc,ticks:gse96058Ticks,left:473.7,right:515,x0:481,v0:.5,k:148,hs:1.1,firstY:239.7,lastY:949.3,titleX:495.5,sw:1.9,mw:1.9,mh:3.1});
drawRanking({name:"gse103091-ranking-plot",labels:gse103091Labels,centers:gse103091Centers,halves:gse103091HalfWidths,tnbc:gse103091Tnbc,ticks:gse103091Ticks,left:643.3,right:684.6,x0:649,v0:.5,k:147,hs:1.1,firstY:240,lastY:949,titleX:664,sw:1.9,mw:1.9,mh:3.1});
</script>
</body>
</html>
